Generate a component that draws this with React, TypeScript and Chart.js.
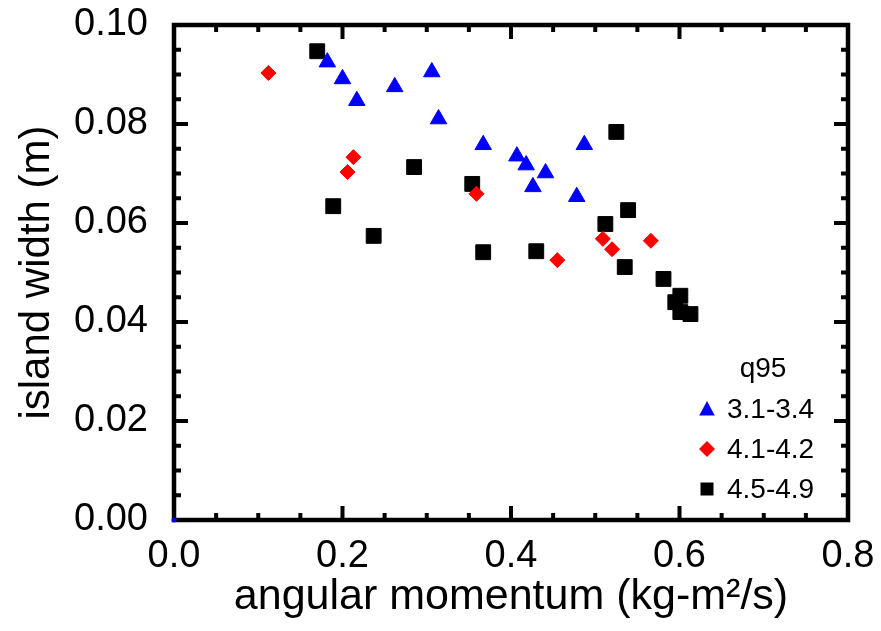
import React, { useEffect, useRef } from 'react';
import { Chart, registerables } from 'chart.js';

Chart.register(...registerables);

// ---- Data ----
const seriesNames = ['3.1-3.4', '4.1-4.2', '4.5-4.9'];
const legendTitle = 'q95';
const xAxisTitle = 'angular momentum (kg-m\u00B2/s)';
const yAxisTitle = 'island width (m)';

// q95 3.1-3.4 (blue triangles)
const momentumLow = [0.182, 0.200, 0.217, 0.262, 0.306, 0.314, 0.367, 0.407, 0.418, 0.426, 0.441, 0.478, 0.487];
const widthLow = [0.0925, 0.0891, 0.0847, 0.0875, 0.0905, 0.0810, 0.0758, 0.0735, 0.0717, 0.0673, 0.0701, 0.0653, 0.0758];

// q95 4.1-4.2 (red diamonds)
const momentumMid = [0.112, 0.213, 0.206, 0.359, 0.455, 0.509, 0.520, 0.566];
const widthMid = [0.0903, 0.0733, 0.0703, 0.0659, 0.0525, 0.0568, 0.0547, 0.0564];

// q95 4.5-4.9 (black squares)
const momentumHigh = [0.170, 0.285, 0.354, 0.189, 0.237, 0.367, 0.430, 0.525, 0.539, 0.512, 0.535, 0.581, 0.601, 0.595, 0.601, 0.613];
const widthHigh = [0.0947, 0.0713, 0.0679, 0.0634, 0.0574, 0.0541, 0.0543, 0.0784, 0.0626, 0.0598, 0.0511, 0.0487, 0.0453, 0.0440, 0.0420, 0.0416];

// stray point at origin
const momentumOrigin = [0];
const widthOrigin = [0];

const xTickValues = [0, 0.2, 0.4, 0.6, 0.8];
const yTickValues = [0, 0.02, 0.04, 0.06, 0.08, 0.1];

// ---- Styles ----
const FONT = '"Liberation Sans", Arial, Helvetica, sans-serif';
const COLORS = ['#0000ff', '#ff0000', '#000000'];
const STYLES = ['triangle', 'rectRot', 'rect'];
const RADII = [9.5, 7.5, 10.5];

const toPoints = (xs: number[], ys: number[]) => xs.map((x, i) => ({ x, y: ys[i] }));

const zeroPad = (s: any) => {
  s.paddingTop = 0;
  s.paddingBottom = 0;
  s.paddingLeft = 0;
  s.paddingRight = 0;
};

const frameTicksPlugin = {
  id: 'frameTicks',
  beforeDatasetsDraw(chart: any) {
    const { ctx, chartArea } = chart;
    const { left, right, top, bottom } = chartArea;
    const xs = chart.scales.x;
    const ys = chart.scales.y;
    ctx.save();
    ctx.strokeStyle = '#000';
    ctx.lineCap = 'butt';
    ctx.lineWidth = 4;
    for (let i = 1; i < 16; i++) {
      const v = i * 0.05;
      const px = xs.getPixelForValue(v);
      const len = i % 4 === 0 ? 14 : 7;
      ctx.beginPath();
      ctx.moveTo(px, bottom);
      ctx.lineTo(px, bottom - len);
      ctx.moveTo(px, top);
      ctx.lineTo(px, top + len);
      ctx.stroke();
    }
    for (let i = 1; i < 20; i++) {
      const v = i * 0.005;
      const py = ys.getPixelForValue(v);
      const len = i % 4 === 0 ? 14 : 7;
      ctx.beginPath();
      ctx.moveTo(left, py);
      ctx.lineTo(left + len, py);
      ctx.moveTo(right, py);
      ctx.lineTo(right - len, py);
      ctx.stroke();
    }
    ctx.lineWidth = 4.5;
    ctx.strokeRect(left, top, right - left, bottom - top);
    ctx.restore();
  },
  afterDatasetsDraw(chart: any) {
    const { ctx } = chart;
    ctx.save();
    ctx.fillStyle = '#000';
    ctx.font = `28px ${FONT}`;
    ctx.textBaseline = 'middle';
    ctx.textAlign = 'center';
    ctx.fillText(legendTitle, 763, 369);
    ctx.textAlign = 'left';
    const mx = 707;
    const rowsY = [409, 449, 489];
    seriesNames.forEach((name, i) => {
      const cy = rowsY[i];
      ctx.fillStyle = COLORS[i];
      ctx.beginPath();
      if (i === 0) {
        ctx.moveTo(mx, cy - 8);
        ctx.lineTo(mx + 7.8, cy + 6.5);
        ctx.lineTo(mx - 7.8, cy + 6.5);
      } else if (i === 1) {
        ctx.moveTo(mx, cy - 8);
        ctx.lineTo(mx + 8, cy);
        ctx.lineTo(mx, cy + 8);
        ctx.lineTo(mx - 8, cy);
      } else {
        ctx.rect(mx - 6.5, cy - 6.5, 13, 13);
      }
      ctx.closePath();
      ctx.fill();
      ctx.fillStyle = '#000';
      ctx.fillText(name, 727, cy + 1);
    });
    ctx.restore();
  },
};

export default function App() {
  const canvasRef = useRef<HTMLCanvasElement | null>(null);

  useEffect(() => {
    if (!canvasRef.current) return;
    const groups = [
      toPoints(momentumLow, widthLow),
      toPoints(momentumMid, widthMid),
      toPoints(momentumHigh, widthHigh),
    ];
    const datasets: any[] = groups.map((data, i) => ({
      label: seriesNames[i],
      data,
      pointStyle: STYLES[i],
      pointRadius: RADII[i],
      pointHoverRadius: RADII[i],
      backgroundColor: COLORS[i],
      borderColor: COLORS[i],
      borderWidth: 1,
      showLine: false,
    }));
    datasets.unshift({
      label: 'origin',
      data: toPoints(momentumOrigin, widthOrigin),
      pointStyle: 'circle',
      pointRadius: 2.5,
      backgroundColor: '#0000ff',
      borderColor: '#0000ff',
      borderWidth: 0,
      showLine: false,
      clip: false,
    });

    const chart = new Chart(canvasRef.current, {
      type: 'scatter',
      data: { datasets },
      options: {
        animation: false,
        responsive: false,
        layout: { padding: { top: 25, right: 33, left: 0, bottom: 0 } },
        plugins: {
          legend: { display: false },
          tooltip: { enabled: false },
        },
        scales: {
          x: {
            type: 'linear',
            min: 0,
            max: 0.8,
            afterFit: (s: any) => { s.height = 111; zeroPad(s); },
            afterBuildTicks: (s: any) => { s.ticks = xTickValues.map((v) => ({ value: v })); },
            grid: { display: false, drawTicks: false },
            border: { display: false },
            ticks: {
              padding: 14,
              maxRotation: 0,
              autoSkip: false,
              color: '#000',
              font: { family: FONT, size: 38 },
              callback: (v: any) => Number(v).toFixed(1),
            },
            title: {
              display: true,
              text: xAxisTitle,
              color: '#000',
              font: { family: FONT, size: 43 },
              padding: { top: 0, bottom: 8 },
            },
          },
          y: {
            type: 'linear',
            min: 0,
            max: 0.1,
            afterFit: (s: any) => { s.width = 174; zeroPad(s); },
            afterBuildTicks: (s: any) => { s.ticks = yTickValues.map((v) => ({ value: v })); },
            grid: { display: false, drawTicks: false },
            border: { display: false },
            ticks: {
              padding: 26,
              autoSkip: false,
              color: '#000',
              font: { family: FONT, size: 38 },
              callback: (v: any) => Number(v).toFixed(2),
            },
            title: {
              display: true,
              text: yAxisTitle,
              color: '#000',
              font: { family: FONT, size: 42 },
              padding: { top: 12, bottom: 0 },
            },
          },
        },
      },
      plugins: [frameTicksPlugin],
    });
    return () => chart.destroy();
  }, []);

  return (
    <div style={{ position: 'fixed', left: 0, top: 0, width: 881, height: 631, background: '#fff' }}>
      <canvas ref={canvasRef} width={881} height={631} style={{ display: 'block' }} />
    </div>
  );
}
